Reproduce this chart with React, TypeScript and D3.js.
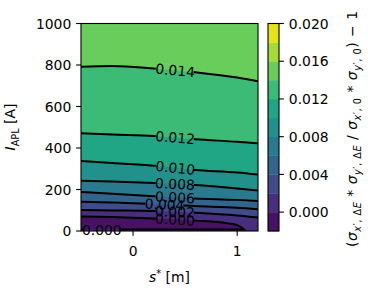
import React from "react";
import * as d3 from "d3";

// contour lines: I_APL [A] at each s* sample
const sPoints = [-0.5, -0.2, 0.2, 0.6, 1.0, 1.2];
const line014 = [792, 795, 783, 765, 740, 722];
const line012 = [471, 465, 458, 442, 430, 423];
const line010 = [337, 328, 315, 294, 282, 272];
const line008 = [242, 238, 231, 222, 205, 195];
const line006 = [188, 180, 168, 157, 150, 145];
const line004 = [141, 137, 130, 120, 112, 105];
const line002 = [101, 99, 96, 88, 75, 65];
// the 0.000 contour closes a small pocket of negative values near the bottom
const zeroS = [-0.5, -0.2, 0.2, 0.6, 0.9, 1.0, 1.04, 1.065];
const zeroTop = [70, 67, 60, 50, 38, 28, 18, 7];
const zeroBottom = 7;

const levels = [-0.002, 0, 0.002, 0.004, 0.006, 0.008, 0.01, 0.012, 0.014, 0.016, 0.018, 0.02];
const cbarTicks = [0, 0.004, 0.008, 0.012, 0.016, 0.02];
const xTicks = [0, 1];
const yTicks = [0, 200, 400, 600, 800, 1000];

const FONT = "DejaVu Sans";
const FS = 13.9;
const TICK = 4.86;

const cbLabel = [
  { t: "(" },
  { t: "σ", i: true },
  { t: "x", i: true, s: 1 },
  { t: "′, Δ", s: 1 },
  { t: "E", i: true, s: 1 },
  { t: " * " },
  { t: "σ", i: true },
  { t: "y", i: true, s: 1 },
  { t: "′, Δ", s: 1 },
  { t: "E", i: true, s: 1 },
  { t: " / " },
  { t: "σ", i: true },
  { t: "x", i: true, s: 1 },
  { t: "′, 0", s: 1 },
  { t: " * " },
  { t: "σ", i: true },
  { t: "y", i: true, s: 1 },
  { t: "′, 0", s: 1 },
  { t: ")" },
  { t: " − 1" },
];

export default function App() {
  const x = d3.scaleLinear().domain([-0.5, 1.2]).range([81, 258]);
  const y = d3.scaleLinear().domain([0, 1000]).range([231, 23.5]);
  const cy = d3.scaleLinear().domain([-0.002, 0.02]).range([231, 23.5]);
  const vmin = levels[0];
  const vmax = levels[levels.length - 1];
  const bandColor = (lo: number) =>
    d3.interpolateViridis((lo + 0.001 - vmin) / (vmax - vmin));

  const contours = [
    { level: 0.002, vals: line002, ls: 0.4 },
    { level: 0.004, vals: line004, ls: 0.3 },
    { level: 0.006, vals: line006, ls: 0.4 },
    { level: 0.008, vals: line008, ls: 0.4 },
    { level: 0.01, vals: line010, ls: 0.4 },
    { level: 0.012, vals: line012, ls: 0.4 },
    { level: 0.014, vals: line014, ls: 0.4 },
  ];

  const lineGen = d3
    .line<[number, number]>()
    .x((d) => x(d[0]))
    .y((d) => y(d[1]))
    .curve(d3.curveMonotoneX);
  const areaGen = d3
    .area<[number, number]>()
    .x((d) => x(d[0]))
    .y0(y(1000))
    .y1((d) => y(d[1]))
    .curve(d3.curveMonotoneX);

  const pts = (ss: number[], vv: number[]) => ss.map((s, i) => [s, vv[i]] as [number, number]);

  const zeroPts = pts(zeroS, zeroTop);
  const zeroLine = lineGen(zeroPts) + `L${x(-0.5)},${y(zeroBottom)}`;

  const labelOf = (ss: number[], vv: number[], s: number) => {
    const f = d3.scaleLinear().domain(ss).range(vv);
    const lx = x(s);
    const ly = y(f(s));
    const ang = (Math.atan2(y(f(s + 0.08)) - y(f(s - 0.08)), x(s + 0.08) - x(s - 0.08)) * 180) / Math.PI;
    return { lx, ly, ang };
  };

  const labels = contours.map((c) => ({ text: c.level.toFixed(3), ...labelOf(sPoints, c.vals, c.ls) }));
  const zeroLabels = [
    { text: "0.000", ...labelOf(zeroS, zeroTop, 0.4) },
    { text: "0.000", lx: x(-0.3), ly: y(zeroBottom), ang: 0 },
  ];

  const lw = 38;
  const lh = 11;
  const maskRects = (ls: { lx: number; ly: number; ang: number }[]) =>
    ls.map((l, k) => (
      <rect
        key={k}
        x={-lw / 2}
        y={-lh / 2}
        width={lw}
        height={lh}
        fill="black"
        transform={`translate(${l.lx},${l.ly}) rotate(${l.ang})`}
      />
    ));

  let shift = 0;
  const cbSpans = cbLabel.map((sg, k) => {
    const target = sg.s ? 3.5 : 0;
    const dy = target - shift;
    shift = target;
    return (
      <tspan key={k} dy={dy} fontStyle={sg.i ? "italic" : "normal"} fontSize={sg.s ? 9.7 : FS}>
        {sg.t}
      </tspan>
    );
  });

  return (
    <svg width={368} height={290} style={{ position: "absolute", left: 0, top: 0 }} fontFamily={FONT}>
      <defs>
        <clipPath id="plot">
          <rect x={81} y={23.5} width={177} height={207.5} />
        </clipPath>
        {labels.map((l, i) => (
          <mask id={`m${i}`} key={i} maskUnits="userSpaceOnUse" x={0} y={0} width={368} height={290}>
            <rect x={0} y={0} width={368} height={290} fill="white" />
            {maskRects([l])}
          </mask>
        ))}
        <mask id="mz" maskUnits="userSpaceOnUse" x={0} y={0} width={368} height={290}>
          <rect x={0} y={0} width={368} height={290} fill="white" />
          {maskRects(zeroLabels)}
        </mask>
      </defs>

      <g clipPath="url(#plot)">
        <rect x={81} y={23.5} width={177} height={207.5} fill={bandColor(0)} />
        <path d={zeroLine + "Z"} fill={bandColor(-0.002)} />
        {contours.map((c, i) => (
          <path key={i} d={areaGen(pts(sPoints, c.vals)) || ""} fill={bandColor(c.level)} />
        ))}
        {contours.map((c, i) => (
          <path
            key={i}
            d={lineGen(pts(sPoints, c.vals)) || ""}
            fill="none"
            stroke="black"
            strokeWidth={2}
            mask={`url(#m${i})`}
          />
        ))}
        <path d={zeroLine} fill="none" stroke="black" strokeWidth={2} mask="url(#mz)" />
      </g>

      {[...labels, ...zeroLabels].map((l, i) => (
        <text
          key={i}
          fontSize={FS}
          textAnchor="middle"
          transform={`translate(${l.lx},${l.ly + 5}) rotate(${l.ang})`}
        >
          {l.text}
        </text>
      ))}

      <rect x={81} y={23.5} width={177} height={207.5} fill="none" stroke="black" strokeWidth={1.1} />

      {yTicks.map((t) => (
        <g key={t}>
          <line x1={81 - TICK} x2={81} y1={y(t)} y2={y(t)} stroke="black" strokeWidth={1.1} />
          <text x={81 - TICK - 4.9} y={y(t) + 5.2} fontSize={FS} textAnchor="end">
            {t}
          </text>
        </g>
      ))}
      {xTicks.map((t) => (
        <g key={t}>
          <line x1={x(t)} x2={x(t)} y1={231} y2={231 + TICK} stroke="black" strokeWidth={1.1} />
          <text x={x(t)} y={256} fontSize={FS} textAnchor="middle">
            {t}
          </text>
        </g>
      ))}

      <text x={169.5} y={282} fontSize={FS} textAnchor="middle">
        <tspan fontStyle="italic">s</tspan>
        <tspan dy={-5} fontSize={9.7}>*</tspan>
        <tspan dy={5}> [m]</tspan>
      </text>
      <text transform="translate(15,127) rotate(-90)" fontSize={FS} textAnchor="middle">
        <tspan fontStyle="italic">I</tspan>
        <tspan dy={3.5} fontSize={9.7}>APL</tspan>
        <tspan dy={-3.5}> [A]</tspan>
      </text>

      {levels.slice(0, -1).map((lo, i) => (
        <rect key={i} x={268} y={cy(levels[i + 1])} width={11} height={cy(lo) - cy(levels[i + 1]) + 0.3} fill={bandColor(lo)} />
      ))}
      <rect x={268} y={23.5} width={11} height={207.5} fill="none" stroke="black" strokeWidth={1.1} />
      {cbarTicks.map((t) => (
        <g key={t}>
          <line x1={279} x2={279 + TICK} y1={cy(t)} y2={cy(t)} stroke="black" strokeWidth={1.1} />
          <text x={279 + TICK + 5} y={cy(t) + 5.2} fontSize={FS}>
            {t.toFixed(3)}
          </text>
        </g>
      ))}
      <text
        transform="translate(357,129) rotate(-90)"
        fontSize={FS}
        textAnchor="middle"
        textLength={236}
        lengthAdjust="spacing"
      >
        {cbSpans}
      </text>
    </svg>
  );
}
